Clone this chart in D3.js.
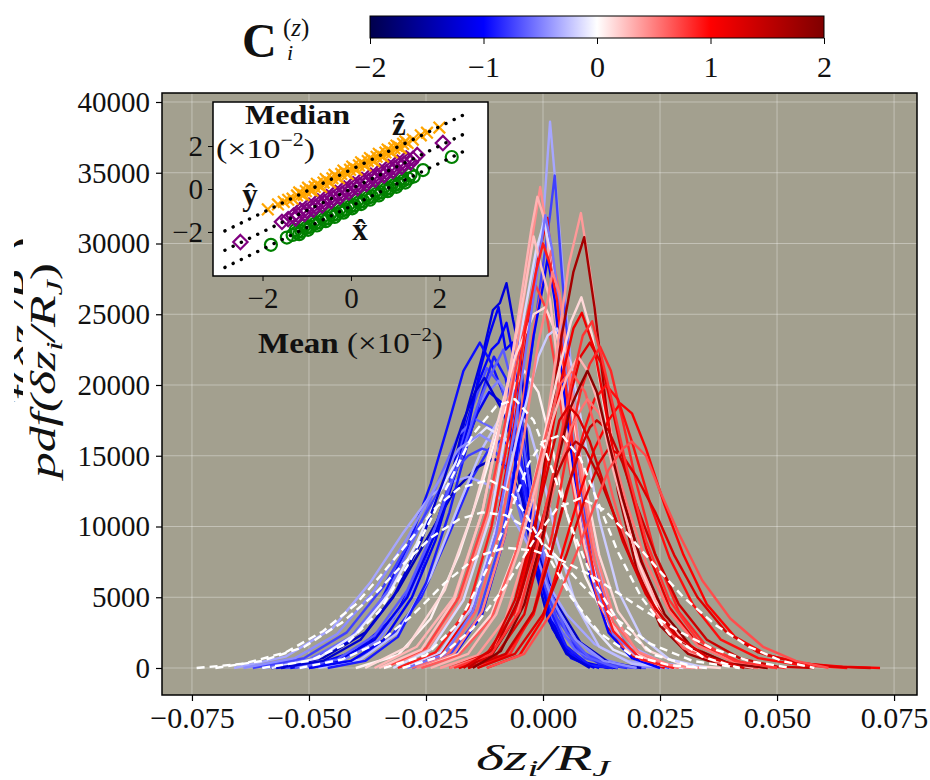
<!DOCTYPE html>
<meta charset="utf-8">
<style>
  body { margin: 0; background: #fff; }
  svg text { font-family: "Liberation Serif", "DejaVu Serif", serif; fill: #111; }
  .grid line { stroke: #ffffff; stroke-opacity: 0.35; stroke-width: 1; }
</style>
<body>
<svg id="chart" width="930" height="780"></svg>
<script src="https://d3js.org/d3.v7.min.js"></script>
<script>
// ---- tick values ----
const xTicks = [-0.075, -0.05, -0.025, 0, 0.025, 0.05, 0.075];
const yTicks = [0, 5000, 10000, 15000, 20000, 25000, 30000, 35000, 40000];
const cbTicks = [-2, -1, 0, 1, 2];
const insetTicks = [-2, 0, 2];

// ---- pdf curves: colour value C_i^(z), dashed flag, points [dz/RJ, pdf] ----
const curveC = [
  -1.2, -1.0, -0.95, -0.7, -0.5, -1.1, -0.6, -0.85, -1.35, -0.35, -0.25, -0.9, -0.75, -0.1,
  -1.05, -0.65, -0.45, -1.25,
  0.05, -0.35, -0.75, 0.45, 1.1, 0.3, -0.15, 0.6, -1.0, 0.75, 0.15, -0.2,
  0.25, -0.55, 0.9, 0.5,
  0.4, 1.7, 0.15, 1.1, 1.2, 0.85, 1.0, 0.95, 1.4, 0.65, 1.25, 0.55, 1.5,
  0.3, 1.9, 0.8, 1.3, 0.7,
  0, 0, 0, 0, 0, 0
];
const curveDash = [
  0,0,0,0,0,0,0,0,0,0,0,0,0,0,
  0,0,0,0,
  0,0,0,0,0,0,0,0,0,0,0,0,
  0,0,0,0,
  0,0,0,0,0,0,0,0,0,0,0,0,0,
  0,0,0,0,0,
  1,1,1,1,1,1
];
const curvePts = [
  // blue group
  [[-0.056,0],[-0.046,400],[-0.038,1500],[-0.031,4000],[-0.025,8000],[-0.020,13000],[-0.016,18500],[-0.013,22000],[-0.0107,25300],[-0.0092,25800],[-0.0078,27200],[-0.0064,24600],[-0.0049,22300],[-0.003,14500],[-0.001,8000],[0.002,3000],[0.006,800],[0.011,100],[0.016,0]],
  [[-0.058,0],[-0.048,300],[-0.040,1200],[-0.032,3500],[-0.026,7000],[-0.021,11500],[-0.017,16500],[-0.014,20000],[-0.011,22500],[-0.0095,23000],[-0.0078,24400],[-0.006,21500],[-0.004,16000],[-0.002,10000],[0.000,5500],[0.003,2200],[0.007,600],[0.012,0]],
  [[-0.060,0],[-0.050,500],[-0.042,1800],[-0.035,4500],[-0.029,8500],[-0.024,13000],[-0.020,17500],[-0.017,21000],[-0.0135,23000],[-0.011,21500],[-0.008,19000],[-0.005,14000],[-0.002,8500],[0.001,4000],[0.005,1200],[0.010,200],[0.015,0]],
  [[-0.055,0],[-0.045,400],[-0.037,1600],[-0.030,4500],[-0.024,9000],[-0.019,14000],[-0.015,18500],[-0.012,21200],[-0.009,20000],[-0.006,16500],[-0.003,11000],[0.000,6000],[0.004,2500],[0.009,700],[0.015,100],[0.022,0]],
  [[-0.052,0],[-0.043,500],[-0.035,2000],[-0.028,5500],[-0.022,10500],[-0.017,15500],[-0.013,19000],[-0.0095,20300],[-0.007,19000],[-0.004,15000],[-0.001,10000],[0.002,5500],[0.006,2500],[0.011,800],[0.018,150],[0.026,0]],
  [[-0.054,0],[-0.044,500],[-0.036,2000],[-0.029,5000],[-0.023,9500],[-0.018,14500],[-0.014,18000],[-0.0115,19500],[-0.009,18800],[-0.006,15000],[-0.003,9500],[0.000,5000],[0.004,1800],[0.009,400],[0.014,0]],
  [[-0.060,0],[-0.050,600],[-0.041,2200],[-0.033,5500],[-0.027,9500],[-0.022,13500],[-0.018,16500],[-0.0145,17600],[-0.011,17000],[-0.008,14500],[-0.005,11000],[-0.002,7000],[0.002,3500],[0.007,1200],[0.013,300],[0.020,0]],
  [[-0.050,0],[-0.041,500],[-0.033,2000],[-0.026,5000],[-0.020,9500],[-0.015,13500],[-0.0115,15500],[-0.0085,16200],[-0.006,15000],[-0.003,11500],[0.000,7500],[0.003,4000],[0.007,1500],[0.012,300],[0.018,0]],
  [[-0.058,0],[-0.047,700],[-0.038,2500],[-0.031,5500],[-0.025,9000],[-0.019,12500],[-0.014,14200],[-0.0105,14800],[-0.007,14000],[-0.004,11500],[-0.001,8000],[0.003,4500],[0.008,1800],[0.014,400],[0.021,0]],
  [[-0.066,0],[-0.055,800],[-0.045,2800],[-0.037,6000],[-0.030,9500],[-0.024,12200],[-0.019,13200],[-0.016,13500],[-0.012,13000],[-0.008,11500],[-0.004,9200],[0.000,6500],[0.005,3800],[0.011,1700],[0.018,500],[0.027,0]],
  [[-0.048,0],[-0.039,600],[-0.031,2500],[-0.024,6500],[-0.018,11500],[-0.013,15500],[-0.009,17800],[-0.006,18500],[-0.003,17000],[0.000,13500],[0.003,9000],[0.007,4500],[0.012,1500],[0.019,300],[0.028,0]],
  [[-0.046,0],[-0.038,500],[-0.031,2200],[-0.025,6000],[-0.020,11000],[-0.016,16000],[-0.013,19500],[-0.0105,22000],[-0.008,20500],[-0.005,15500],[-0.002,9500],[0.001,4500],[0.005,1500],[0.010,200],[0.015,0]],
  [[-0.062,0],[-0.051,700],[-0.042,2500],[-0.034,5800],[-0.027,9800],[-0.021,13200],[-0.016,15000],[-0.013,15500],[-0.010,15200],[-0.007,13500],[-0.004,10500],[-0.001,7000],[0.003,3500],[0.008,1200],[0.014,200],[0.020,0]],
  [[-0.058,0],[-0.048,700],[-0.040,2400],[-0.033,5200],[-0.027,8800],[-0.022,12500],[-0.017,15500],[-0.012,17000],[-0.008,16200],[-0.004,13500],[0.000,10000],[0.004,6500],[0.009,3500],[0.015,1300],[0.022,300],[0.030,0]],
  [[-0.050,0],[-0.041,500],[-0.034,2000],[-0.028,5000],[-0.023,9000],[-0.019,13500],[-0.016,17000],[-0.0135,21000],[-0.0115,23500],[-0.0095,25500],[-0.008,22500],[-0.0065,23000],[-0.005,18000],[-0.003,12000],[-0.001,7000],[0.002,2800],[0.006,700],[0.011,0]],
  [[-0.053,0],[-0.044,600],[-0.036,2300],[-0.029,5500],[-0.023,10000],[-0.018,14500],[-0.014,18500],[-0.0115,20500],[-0.0085,22500],[-0.0065,20000],[-0.0045,16500],[-0.002,11000],[0.001,6000],[0.005,2500],[0.010,700],[0.016,0]],
  [[-0.064,0],[-0.053,700],[-0.044,2400],[-0.036,5500],[-0.029,9200],[-0.023,12800],[-0.018,15500],[-0.0135,16500],[-0.011,16000],[-0.008,14800],[-0.005,12000],[-0.002,8500],[0.002,4800],[0.007,2000],[0.013,500],[0.020,0]],
  [[-0.057,0],[-0.047,500],[-0.039,2000],[-0.032,5000],[-0.026,9000],[-0.021,13500],[-0.017,17500],[-0.0145,19500],[-0.0125,20500],[-0.010,19000],[-0.0075,17500],[-0.005,13000],[-0.002,7500],[0.001,3500],[0.005,1000],[0.010,0]],
  // central group
  [[-0.040,0],[-0.031,900],[-0.024,3500],[-0.018,8000],[-0.013,13000],[-0.009,17500],[-0.006,20000],[-0.004,21000],[-0.001,19500],[0.002,15500],[0.005,11000],[0.009,6500],[0.014,3000],[0.020,900],[0.028,0]],
  [[-0.030,0],[-0.022,1000],[-0.016,3500],[-0.011,8500],[-0.007,15500],[-0.004,22000],[-0.002,27500],[0.000,31500],[0.0015,38600],[0.003,33000],[0.005,25000],[0.007,17500],[0.010,10000],[0.014,4500],[0.019,1500],[0.026,300],[0.034,0]],
  [[-0.028,0],[-0.020,900],[-0.014,3500],[-0.009,9000],[-0.005,16000],[-0.002,23500],[0.000,28500],[0.0015,32000],[0.0025,34800],[0.004,28000],[0.006,20000],[0.008,13000],[0.011,7000],[0.015,2800],[0.020,800],[0.027,0]],
  [[-0.034,0],[-0.025,1200],[-0.018,4500],[-0.012,10500],[-0.008,17500],[-0.005,24000],[-0.0025,30000],[-0.0006,34000],[0.001,30500],[0.003,24000],[0.005,17500],[0.008,10500],[0.011,5500],[0.015,2200],[0.021,500],[0.029,0]],
  [[-0.030,0],[-0.022,1000],[-0.015,4000],[-0.010,10000],[-0.006,17500],[-0.003,24500],[-0.001,29000],[0.0009,31800],[0.0025,27000],[0.0045,20000],[0.007,13000],[0.010,7000],[0.014,2800],[0.019,800],[0.026,0]],
  [[-0.036,0],[-0.027,1500],[-0.019,5000],[-0.013,11000],[-0.008,19000],[-0.005,25500],[-0.0025,31000],[-0.0012,33300],[0.0005,31500],[0.0025,25500],[0.0045,19000],[0.007,12500],[0.010,7000],[0.014,3000],[0.020,800],[0.028,0]],
  [[-0.032,0],[-0.024,1300],[-0.017,4800],[-0.011,11000],[-0.007,18500],[-0.004,25000],[-0.0015,29500],[0.0002,31500],[0.002,29000],[0.004,23000],[0.006,16500],[0.009,9500],[0.013,4200],[0.018,1300],[0.025,200],[0.032,0]],
  [[-0.028,0],[-0.020,1100],[-0.014,4200],[-0.009,10000],[-0.005,17500],[-0.002,24000],[0.0005,28000],[0.0018,29500],[0.0035,26500],[0.0055,20500],[0.008,13500],[0.011,7500],[0.015,3200],[0.021,900],[0.029,0]],
  [[-0.026,0],[-0.019,900],[-0.013,3800],[-0.008,9500],[-0.005,16500],[-0.002,23500],[0.000,27000],[0.001,29000],[0.0025,26000],[0.0045,19500],[0.007,12500],[0.010,6500],[0.014,2500],[0.019,700],[0.025,0]],
  [[-0.034,0],[-0.025,1400],[-0.018,5000],[-0.012,11000],[-0.008,17500],[-0.005,22500],[-0.003,25500],[-0.0015,27000],[0.0005,25500],[0.003,20500],[0.005,15500],[0.008,9500],[0.012,4500],[0.017,1500],[0.024,300],[0.032,0]],
  [[-0.038,0],[-0.029,1500],[-0.021,5500],[-0.015,11000],[-0.010,17000],[-0.006,22000],[-0.002,25000],[0.0005,25500],[0.003,23500],[0.006,18500],[0.009,13000],[0.012,8000],[0.016,4000],[0.022,1300],[0.030,200],[0.038,0]],
  [[-0.030,0],[-0.022,1100],[-0.015,4500],[-0.010,10000],[-0.005,17000],[-0.001,22000],[0.001,23500],[0.003,24000],[0.006,21500],[0.009,16000],[0.012,10500],[0.016,5500],[0.021,2200],[0.027,600],[0.035,0]],
  [[-0.035,0],[-0.026,1300],[-0.019,4800],[-0.013,11000],[-0.009,17500],[-0.006,23000],[-0.004,26500],[-0.002,30500],[-0.0005,28500],[0.0015,26000],[0.0035,20500],[0.006,14000],[0.009,8500],[0.013,4000],[0.018,1300],[0.025,200],[0.033,0]],
  [[-0.029,0],[-0.021,1000],[-0.015,4000],[-0.010,9500],[-0.006,17000],[-0.003,24000],[-0.001,28500],[0.0005,32000],[0.002,29500],[0.0035,25500],[0.0055,18500],[0.008,11500],[0.011,6000],[0.015,2400],[0.021,600],[0.028,0]],
  [[-0.031,0],[-0.023,1100],[-0.016,4200],[-0.011,10000],[-0.007,17000],[-0.004,23500],[-0.0015,28000],[0.000,30000],[0.0015,28500],[0.003,26000],[0.005,19500],[0.0075,12500],[0.011,6500],[0.015,2600],[0.021,600],[0.028,0]],
  [[-0.027,0],[-0.019,1000],[-0.013,4000],[-0.008,9500],[-0.004,16500],[-0.001,23000],[0.001,26000],[0.002,28000],[0.0035,26500],[0.0055,21500],[0.008,14500],[0.011,8500],[0.015,3800],[0.020,1200],[0.027,200],[0.034,0]],
  // red group
  [[-0.022,0],[-0.014,900],[-0.008,3500],[-0.003,9000],[0.000,15500],[0.003,22500],[0.0055,28500],[0.0081,32150],[0.0105,27000],[0.013,20000],[0.016,13500],[0.020,7500],[0.025,3300],[0.031,1100],[0.039,200],[0.047,0]],
  [[-0.018,0],[-0.011,900],[-0.006,3500],[-0.002,9000],[0.001,16000],[0.004,23500],[0.0065,28000],[0.0088,30450],[0.011,25500],[0.0135,18500],[0.016,12500],[0.020,7000],[0.025,3000],[0.031,1000],[0.038,200],[0.045,0]],
  [[-0.026,0],[-0.018,1000],[-0.011,3800],[-0.005,9000],[-0.001,14500],[0.003,20500],[0.006,24500],[0.0082,26200],[0.0105,23500],[0.013,18500],[0.016,13000],[0.020,7800],[0.025,3800],[0.031,1400],[0.039,300],[0.048,0]],
  [[-0.020,0],[-0.012,1000],[-0.006,4000],[-0.002,9500],[0.001,15000],[0.004,20500],[0.0065,24000],[0.0083,25100],[0.011,22500],[0.0135,18000],[0.016,13500],[0.020,8500],[0.025,4200],[0.031,1600],[0.039,400],[0.048,0]],
  [[-0.018,0],[-0.010,900],[-0.004,3800],[0.000,9000],[0.003,14500],[0.006,19500],[0.008,22000],[0.010,23000],[0.0125,21500],[0.015,18000],[0.018,13500],[0.022,8500],[0.027,4300],[0.033,1700],[0.041,400],[0.050,0]],
  [[-0.014,0],[-0.007,1000],[-0.002,4000],[0.002,9500],[0.005,15000],[0.008,19500],[0.010,21500],[0.0122,22700],[0.0145,21000],[0.017,17500],[0.020,13000],[0.024,8000],[0.029,4000],[0.035,1500],[0.043,300],[0.052,0]],
  [[-0.012,0],[-0.005,900],[0.000,3500],[0.004,8000],[0.008,12500],[0.011,15500],[0.014,17500],[0.0165,18700],[0.019,18000],[0.022,15500],[0.026,11500],[0.030,8000],[0.035,4500],[0.041,2200],[0.048,900],[0.056,300],[0.064,100],[0.072,0]],
  [[-0.016,0],[-0.008,900],[-0.002,3800],[0.002,8500],[0.006,13500],[0.009,17000],[0.011,19000],[0.0135,20000],[0.016,19000],[0.019,16000],[0.023,11500],[0.027,7800],[0.032,4500],[0.038,2000],[0.046,700],[0.055,200],[0.065,0]],
  [[-0.016,0],[-0.008,1000],[-0.002,4000],[0.002,8500],[0.005,12500],[0.008,15500],[0.010,17000],[0.0115,17500],[0.014,16800],[0.017,14500],[0.020,11500],[0.024,8000],[0.029,4500],[0.035,2000],[0.042,700],[0.050,100],[0.058,0]],
  [[-0.026,0],[-0.018,900],[-0.011,3500],[-0.006,8000],[-0.002,13000],[0.001,17000],[0.0035,20000],[0.006,21000],[0.009,19500],[0.012,16000],[0.015,12000],[0.019,7500],[0.024,3800],[0.030,1400],[0.038,300],[0.046,0]],
  [[-0.014,0],[-0.006,1000],[0.000,3800],[0.005,8000],[0.009,12000],[0.012,14500],[0.014,15500],[0.017,15000],[0.020,13500],[0.024,11000],[0.028,8000],[0.033,5000],[0.039,2600],[0.046,1100],[0.054,400],[0.062,100],[0.070,0]],
  [[-0.020,0],[-0.012,900],[-0.006,3500],[-0.001,8500],[0.003,13500],[0.006,17000],[0.0085,18500],[0.0095,19000],[0.012,18000],[0.015,15000],[0.018,11500],[0.022,7500],[0.027,4000],[0.033,1600],[0.041,400],[0.050,0]],
  [[-0.016,0],[-0.010,1500],[-0.005,5000],[-0.001,9500],[0.002,13000],[0.005,15200],[0.007,16000],[0.009,15500],[0.012,13500],[0.015,11000],[0.019,7500],[0.024,4200],[0.030,1800],[0.037,500],[0.045,0]],
  [[-0.024,0],[-0.016,1000],[-0.010,3800],[-0.005,8500],[-0.001,13500],[0.002,17500],[0.005,20500],[0.0075,22000],[0.0095,21000],[0.012,18500],[0.015,14000],[0.019,9000],[0.024,4800],[0.030,1900],[0.037,500],[0.045,0]],
  [[-0.015,0],[-0.009,1200],[-0.004,4500],[0.000,9500],[0.003,14500],[0.006,18500],[0.008,20000],[0.0095,21000],[0.0115,19500],[0.014,16000],[0.017,12000],[0.021,7500],[0.026,3800],[0.032,1400],[0.040,300],[0.048,0]],
  [[-0.019,0],[-0.011,1000],[-0.005,4000],[-0.001,9000],[0.003,15000],[0.006,20000],[0.0085,23500],[0.0105,24500],[0.0125,22000],[0.015,18500],[0.018,14000],[0.022,9000],[0.027,4800],[0.033,2000],[0.041,500],[0.050,0]],
  [[-0.017,0],[-0.011,1300],[-0.006,4800],[-0.002,9800],[0.001,14000],[0.0035,17500],[0.0055,18500],[0.0075,17800],[0.010,16000],[0.013,13000],[0.017,9000],[0.022,5200],[0.028,2400],[0.035,800],[0.043,0]],
  [[-0.012,0],[-0.004,1000],[0.002,4000],[0.007,8000],[0.011,11500],[0.014,14000],[0.017,15500],[0.019,16000],[0.022,15000],[0.025,12500],[0.029,9500],[0.034,6200],[0.040,3500],[0.047,1500],[0.054,500],[0.061,0]],
  // dashed, broad
  [[-0.074,0],[-0.064,300],[-0.055,1100],[-0.047,2600],[-0.040,4500],[-0.034,6800],[-0.028,9200],[-0.023,11300],[-0.018,12700],[-0.0115,13300],[-0.007,12500],[-0.003,10500],[0.001,8000],[0.006,5000],[0.012,2500],[0.019,900],[0.027,200],[0.035,0]],
  [[-0.060,0],[-0.050,500],[-0.042,1700],[-0.035,4000],[-0.029,7200],[-0.024,10500],[-0.019,13800],[-0.015,16500],[-0.010,18500],[-0.006,19000],[-0.002,17500],[0.002,14000],[0.006,10000],[0.011,6000],[0.017,2800],[0.024,900],[0.033,0]],
  [[-0.070,0],[-0.060,500],[-0.051,1500],[-0.043,3200],[-0.036,5200],[-0.030,7300],[-0.024,9200],[-0.018,10500],[-0.013,11000],[-0.008,10800],[-0.003,9800],[0.002,8200],[0.008,6000],[0.015,3600],[0.023,1700],[0.032,500],[0.042,0]],
  [[-0.052,0],[-0.043,600],[-0.035,1800],[-0.028,3700],[-0.021,6000],[-0.014,7900],[-0.008,8500],[-0.002,8300],[0.004,7600],[0.010,6600],[0.016,5300],[0.022,4000],[0.029,2600],[0.036,1400],[0.044,500],[0.053,0]],
  [[-0.030,0],[-0.022,800],[-0.015,2800],[-0.008,5800],[-0.002,9000],[0.003,11300],[0.008,12000],[0.013,11200],[0.018,9500],[0.024,7200],[0.030,5000],[0.037,3000],[0.044,1500],[0.051,500],[0.058,0]],
  [[-0.034,0],[-0.025,900],[-0.018,3200],[-0.012,7000],[-0.007,11000],[-0.003,14500],[0.000,16000],[0.004,16500],[0.008,14800],[0.012,11500],[0.016,8200],[0.021,5000],[0.027,2400],[0.034,800],[0.042,0]]
];

// ---- inset: mean vs median (x10^-2) for z-hat, y-hat, x-hat ----
const zHatPts = [[-1.88,-0.95],[-1.65,-0.72],[-1.52,-0.6],[-1.42,-0.5],[-1.32,-0.45],[-1.22,-0.3],[-1.12,-0.24],[-1.02,-0.1],[-0.92,-0.04],[-0.82,0.1],[-0.72,0.16],[-0.62,0.3],[-0.52,0.36],[-0.42,0.5],[-0.32,0.56],[-0.22,0.7],[-0.12,0.76],[-0.02,0.9],[0.08,0.96],[0.18,1.1],[0.28,1.16],[0.38,1.3],[0.48,1.36],[0.58,1.5],[0.68,1.56],[0.78,1.7],[0.88,1.76],[0.98,1.9],[1.08,1.96],[1.18,2.1],[1.28,2.14],[1.4,2.3],[1.58,2.5],[1.72,2.62],[2.0,2.86],
  [-1.17,-0.16],[-0.97,0.06],[-0.77,0.24],[-0.57,0.46],[-0.37,0.66],[-0.17,0.86],[0.03,1.04],[0.23,1.24],[0.43,1.44],[0.63,1.64],[0.83,1.84],[1.03,2.02],[1.23,2.22],
  [-1.07,-0.28],[-0.87,-0.08],[-0.67,0.1],[-0.47,0.3],[-0.27,0.5],[-0.07,0.7],[0.13,0.9],[0.33,1.1],[0.53,1.3],[0.73,1.5],[0.93,1.7],[1.13,1.9]];
const yHatPts = [[-2.5,-2.47],[-1.56,-1.53],[-1.42,-1.4],[-1.3,-1.24],[-1.2,-1.22],[-1.1,-1.06],[-1.0,-1.02],[-0.9,-0.86],[-0.8,-0.82],[-0.7,-0.66],[-0.6,-0.62],[-0.5,-0.46],[-0.4,-0.42],[-0.3,-0.26],[-0.2,-0.22],[-0.1,-0.06],[0.0,-0.02],[0.1,0.14],[0.2,0.18],[0.3,0.34],[0.4,0.38],[0.5,0.54],[0.6,0.58],[0.7,0.74],[0.8,0.78],[0.9,0.94],[1.0,0.98],[1.1,1.14],[1.2,1.18],[1.3,1.34],[1.4,1.4],[1.5,1.58],[2.08,2.14],
  [-1.15,-0.98],[-0.95,-0.78],[-0.75,-0.58],[-0.55,-0.38],[-0.35,-0.18],[-0.15,0.02],[0.05,0.22],[0.25,0.42],[0.45,0.62],[0.65,0.82],[0.85,1.02],[1.05,1.22],[1.25,1.42],
  [-1.25,-1.37],[-1.05,-1.17],[-0.85,-0.97],[-0.65,-0.77],[-0.45,-0.57],[-0.25,-0.37],[-0.05,-0.17],[0.15,0.03],[0.35,0.23],[0.55,0.43],[0.75,0.63],[0.95,0.83],[1.15,1.03],[1.35,1.23]];
const xHatPts = [[-1.81,-2.6],[-1.45,-2.26],[-1.32,-2.14],[-1.22,-2.02],[-1.12,-1.96],[-1.02,-1.82],[-0.92,-1.76],[-0.82,-1.62],[-0.72,-1.56],[-0.62,-1.42],[-0.52,-1.36],[-0.42,-1.22],[-0.32,-1.16],[-0.22,-1.02],[-0.12,-0.96],[-0.02,-0.82],[0.08,-0.76],[0.18,-0.62],[0.28,-0.56],[0.38,-0.42],[0.48,-0.36],[0.58,-0.22],[0.68,-0.16],[0.78,-0.02],[0.88,0.04],[0.98,0.18],[1.08,0.24],[1.18,0.38],[1.3,0.48],[1.42,0.58],[1.63,0.88],[2.28,1.49],
  [-1.17,-2.1],[-0.97,-1.9],[-0.77,-1.7],[-0.57,-1.5],[-0.37,-1.3],[-0.17,-1.1],[0.03,-0.9],[0.23,-0.7],[0.43,-0.5],[0.63,-0.3],[0.83,-0.1],[1.03,0.1],[1.23,0.3],
  [-1.25,-1.91],[-1.05,-1.71],[-0.85,-1.51],[-0.65,-1.31],[-0.45,-1.11],[-0.25,-0.91],[-0.05,-0.71],[0.15,-0.51],[0.35,-0.31],[0.55,-0.11],[0.75,0.09],[0.95,0.29],[1.15,0.49],[1.35,0.69]];
const refOffsets = [0.9, 0, -0.8];
const refRange = [-2.85, 2.7];

// ---- layout ----
const svg = d3.select("#chart");
const plot = { left: 162, right: 917, top: 93, bottom: 695 };
const x = d3.scaleLinear().domain([-0.0814, 0.0799]).range([plot.left, plot.right]);
const y = d3.scaleLinear().domain([-1908, 40636]).range([plot.bottom, plot.top]);
const seismic = d3.scaleLinear().domain([-2, -1, 0, 1, 2])
  .range(["#00004c", "#0000ff", "#ffffff", "#ff0000", "#7f0000"]);

// background
svg.append("rect")
  .attr("x", plot.left).attr("y", plot.top)
  .attr("width", plot.right - plot.left).attr("height", plot.bottom - plot.top)
  .attr("fill", "#a3a08f");

// grid
const grid = svg.append("g").attr("class", "grid");
grid.selectAll(".gx").data(xTicks).join("line")
  .attr("x1", d => x(d)).attr("x2", d => x(d))
  .attr("y1", plot.top).attr("y2", plot.bottom);
grid.selectAll(".gy").data(yTicks).join("line")
  .attr("y1", d => y(d)).attr("y2", d => y(d))
  .attr("x1", plot.left).attr("x2", plot.right);

svg.append("clipPath").attr("id", "clip").append("rect")
  .attr("x", plot.left).attr("y", plot.top)
  .attr("width", plot.right - plot.left).attr("height", plot.bottom - plot.top);

const line = d3.line().x(d => x(d[0])).y(d => y(d[1]));
svg.append("g").attr("clip-path", "url(#clip)")
  .selectAll("path").data(curvePts).join("path")
  .attr("d", line)
  .attr("fill", "none")
  .attr("stroke", (d, i) => seismic(curveC[i]))
  .attr("stroke-width", 2.4)
  .attr("stroke-linejoin", "round")
  .attr("stroke-dasharray", (d, i) => curveDash[i] ? "8,5" : null);

// frame
svg.append("rect")
  .attr("x", plot.left).attr("y", plot.top)
  .attr("width", plot.right - plot.left).attr("height", plot.bottom - plot.top)
  .attr("fill", "none").attr("stroke", "#000").attr("stroke-width", 1.5);

// axes
const xAxis = svg.append("g")
  .attr("transform", `translate(0,${plot.bottom})`)
  .call(d3.axisBottom(x).tickValues(xTicks).tickFormat(d3.format(".3f")).tickSize(6).tickSizeOuter(0).tickPadding(6));
const yAxis = svg.append("g")
  .attr("transform", `translate(${plot.left},0)`)
  .call(d3.axisLeft(y).tickValues(yTicks).tickFormat(d3.format("d")).tickSize(6).tickSizeOuter(0).tickPadding(6));
[xAxis, yAxis].forEach(g => {
  g.select(".domain").remove();
  g.selectAll("line").attr("stroke", "#000").attr("stroke-width", 1.2);
  g.selectAll("text").style("font-size", "29px").style("font-family", "Liberation Serif").attr("fill", "#222");
});
xAxis.selectAll("text").style("font-size", "30px");

// axis labels
const xl = svg.append("text").attr("x", 476).attr("y", 770)
  .style("font-size", "35px").style("font-style", "italic")
  .attr("textLength", 134).attr("lengthAdjust", "spacingAndGlyphs");
xl.append("tspan").text("δz");
xl.append("tspan").text("i").style("font-size", "23px").attr("dy", 6);
xl.append("tspan").text("/R").attr("dy", -6);
xl.append("tspan").text("J").style("font-size", "23px").attr("dy", 6);

function yLabel(g) {
  g.append("tspan").text("pdf(δz");
  g.append("tspan").text("i").style("font-size", "24px").attr("dy", 7);
  g.append("tspan").text("/R").attr("dy", -7);
  g.append("tspan").text("J").style("font-size", "24px").attr("dy", 7);
  g.append("tspan").text(")").style("font-style", "normal").attr("dy", -7);
}
// partly hidden label behind
svg.append("clipPath").attr("id", "ghostclip").append("rect")
  .attr("x", 14).attr("y", 222).attr("width", 9).attr("height", 180);
const ghost = svg.append("g").attr("clip-path", "url(#ghostclip)")
  .append("text").attr("transform", "translate(34,452) rotate(-90)")
  .style("font-size", "36px").style("font-style", "italic").attr("fill", "#555")
  .attr("textLength", 215).attr("lengthAdjust", "spacingAndGlyphs");
yLabel(ghost);
const yl = svg.append("text").attr("transform", "translate(55,478) rotate(-90)")
  .style("font-size", "36px").style("font-style", "italic")
  .attr("textLength", 215).attr("lengthAdjust", "spacingAndGlyphs");
yLabel(yl);

// ---- colorbar ----
const cb = { left: 370, right: 824, top: 16, bottom: 38 };
const cbx = d3.scaleLinear().domain([-2, 2]).range([cb.left, cb.right]);
const grad = svg.append("defs").append("linearGradient").attr("id", "seis");
grad.selectAll("stop").data(cbTicks).join("stop")
  .attr("offset", d => ((d + 2) / 4 * 100) + "%")
  .attr("stop-color", d => seismic(d));
svg.append("rect").attr("x", cb.left).attr("y", cb.top)
  .attr("width", cb.right - cb.left).attr("height", cb.bottom - cb.top)
  .attr("fill", "url(#seis)").attr("stroke", "#000").attr("stroke-width", 1);
const cbAxis = svg.append("g").attr("transform", `translate(0,${cb.bottom})`)
  .call(d3.axisBottom(cbx).tickValues(cbTicks).tickFormat(d3.format("d")).tickSize(6).tickSizeOuter(0).tickPadding(12));
cbAxis.select(".domain").remove();
cbAxis.selectAll("line").attr("stroke", "#000");
cbAxis.selectAll("text").style("font-size", "30px").style("font-family", "Liberation Serif").attr("fill", "#222");

svg.append("text").attr("x", 242).attr("y", 57).style("font-size", "48px").style("font-weight", "bold").text("C");
const cz = svg.append("text").attr("x", 283).attr("y", 36).style("font-size", "25px");
cz.append("tspan").text("(");
cz.append("tspan").text("z").style("font-style", "italic");
cz.append("tspan").text(")");
svg.append("text").attr("x", 287).attr("y", 60).style("font-size", "22px").style("font-style", "italic").text("i");

// ---- inset ----
const ins = { left: 213, right: 488, top: 102, bottom: 276 };
const ix = d3.scaleLinear().domain([-3.12, 3.10]).range([ins.left, ins.right]);
const iy = d3.scaleLinear().domain([-4.05, 4.05]).range([ins.bottom, ins.top]);
svg.append("rect").attr("x", ins.left).attr("y", ins.top)
  .attr("width", ins.right - ins.left).attr("height", ins.bottom - ins.top)
  .attr("fill", "#fff");
svg.append("clipPath").attr("id", "iclip").append("rect")
  .attr("x", ins.left).attr("y", ins.top)
  .attr("width", ins.right - ins.left).attr("height", ins.bottom - ins.top);
const ig = svg.append("g").attr("clip-path", "url(#iclip)");

// green circles
ig.append("g").selectAll("circle").data(xHatPts).join("circle")
  .attr("cx", d => ix(d[0])).attr("cy", d => iy(d[1])).attr("r", 6)
  .attr("fill", "none").attr("stroke", "#008000").attr("stroke-width", 2.2);
// purple diamonds
ig.append("g").selectAll("path").data(yHatPts).join("path")
  .attr("d", d3.symbol(d3.symbolDiamond2, 130))
  .attr("transform", d => `translate(${ix(d[0])},${iy(d[1])})`)
  .attr("fill", "none").attr("stroke", "#800080").attr("stroke-width", 2.2);
// orange crosses
ig.append("g").selectAll("path").data(zHatPts).join("path")
  .attr("d", d3.symbol(d3.symbolTimes, 90))
  .attr("transform", d => `translate(${ix(d[0])},${iy(d[1])})`)
  .attr("fill", "none").attr("stroke", "#ffa500").attr("stroke-width", 2.2);
// dotted reference lines
ig.append("g").selectAll("line").data(refOffsets).join("line")
  .attr("x1", ix(refRange[0])).attr("x2", ix(refRange[1]))
  .attr("y1", d => iy(refRange[0] + d)).attr("y2", d => iy(refRange[1] + d))
  .attr("stroke", "#000").attr("stroke-width", 3.4)
  .attr("stroke-linecap", "round").attr("stroke-dasharray", "0.1,9");

svg.append("rect").attr("x", ins.left).attr("y", ins.top)
  .attr("width", ins.right - ins.left).attr("height", ins.bottom - ins.top)
  .attr("fill", "none").attr("stroke", "#000").attr("stroke-width", 1.5);

const ixAxis = svg.append("g").attr("transform", `translate(0,${ins.bottom})`)
  .call(d3.axisBottom(ix).tickValues(insetTicks).tickFormat(d3.format("d")).tickSize(5).tickSizeOuter(0).tickPadding(6));
const iyAxis = svg.append("g").attr("transform", `translate(${ins.left},0)`)
  .call(d3.axisLeft(iy).tickValues(insetTicks).tickFormat(d3.format("d")).tickSize(5).tickSizeOuter(0).tickPadding(5));
[ixAxis, iyAxis].forEach(g => {
  g.select(".domain").remove();
  g.selectAll("line").attr("stroke", "#000");
  g.selectAll("text").style("font-size", "29px").style("font-family", "Liberation Serif").attr("fill", "#222");
});

svg.append("text").attr("x", 245).attr("y", 124).style("font-size", "27px").style("font-weight", "bold")
  .attr("textLength", 105).attr("lengthAdjust", "spacingAndGlyphs").text("Median");
const med2 = svg.append("text").attr("x", 216).attr("y", 158).style("font-size", "28px")
  .attr("textLength", 99).attr("lengthAdjust", "spacingAndGlyphs");
med2.append("tspan").text("(×10");
med2.append("tspan").text("−2").style("font-size", "18px").attr("dy", -12);
med2.append("tspan").text(")").attr("dy", 12);
const mean = svg.append("text").attr("x", 258).attr("y", 353).style("font-size", "30px")
  .attr("textLength", 185).attr("lengthAdjust", "spacingAndGlyphs");
mean.append("tspan").text("Mean").style("font-weight", "bold");
mean.append("tspan").text(" (×10");
mean.append("tspan").text("−2").style("font-size", "19px").attr("dy", -12);
mean.append("tspan").text(")").attr("dy", 12);

const hats = [["z\u0302", 399, 135, "#ffa500"], ["y\u0302", 250, 205, "#800080"], ["x\u0302", 360, 240, "#008000"]];
svg.append("g").selectAll("text").data(hats).join("text")
  .attr("x", d => d[1]).attr("y", d => d[2]).attr("text-anchor", "middle")
  .style("font-size", "31px").style("font-weight", "bold")
  .attr("fill", d => d[3]).text(d => d[0]);
</script>
</body>
